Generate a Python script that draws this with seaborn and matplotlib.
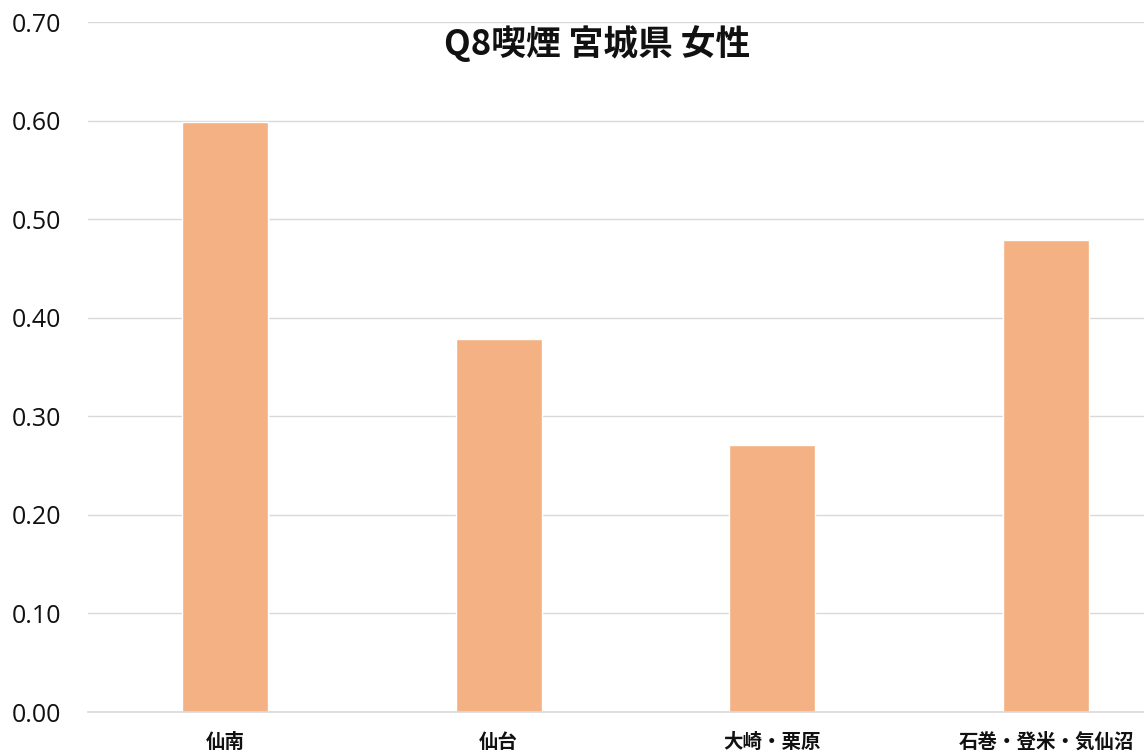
import pandas as pd
import seaborn as sns
import matplotlib.pyplot as plt

regions = ['仙南', '仙台', '大崎・栗原', '石巻・登米・気仙沼']
rates = [0.599, 0.378, 0.271, 0.479]
yticks = [0.0, 0.1, 0.2, 0.3, 0.4, 0.5, 0.6, 0.7]

df = pd.DataFrame({'region': regions, 'rate': rates})

sns.set_style('white')
plt.rcParams['font.family'] = ['Open Sans', 'Noto Sans CJK JP', 'DejaVu Sans']

fig = plt.figure(figsize=(11.44, 7.56), dpi=100)
# axes stretches past the right edge, as in the reference
ax = fig.add_axes([88 / 1144, 44 / 756, 1095 / 1144, 690 / 756])

sns.barplot(data=df, x='region', y='rate', color='#F4B183', width=0.314,
            saturation=1, ax=ax)

ax.set_xlim(-0.5, 3.5)
ax.set_ylim(0, 0.7)
ax.set_yticks(yticks)
ax.set_yticklabels([f'{v:.2f}' for v in yticks], fontsize=18, color='#111111')
ax.set_xticklabels(regions, fontsize=14, fontweight='bold', color='#111111',
                   family=['Noto Sans CJK JP', 'DejaVu Sans'])
ax.tick_params(axis='y', length=0, pad=19)
ax.tick_params(axis='x', length=0, pad=15)
ax.set_xlabel('')
ax.set_ylabel('')
ax.yaxis.grid(True, color='#d9d9d9', linewidth=1)
ax.set_axisbelow(True)
for s in ['left', 'right', 'top']:
    ax.spines[s].set_visible(False)
ax.spines['bottom'].set_color('#d9d9d9')
ax.spines['bottom'].set_linewidth(1.2)

fig.text(597 / 1144, 1 - 44 / 756, 'Q8喫煙 宮城県 女性', ha='center', va='center',
         fontsize=25, fontweight='bold', color='#111111',
         family=['Noto Sans CJK JP', 'DejaVu Sans'])

fig.savefig('out.png', dpi=100)
